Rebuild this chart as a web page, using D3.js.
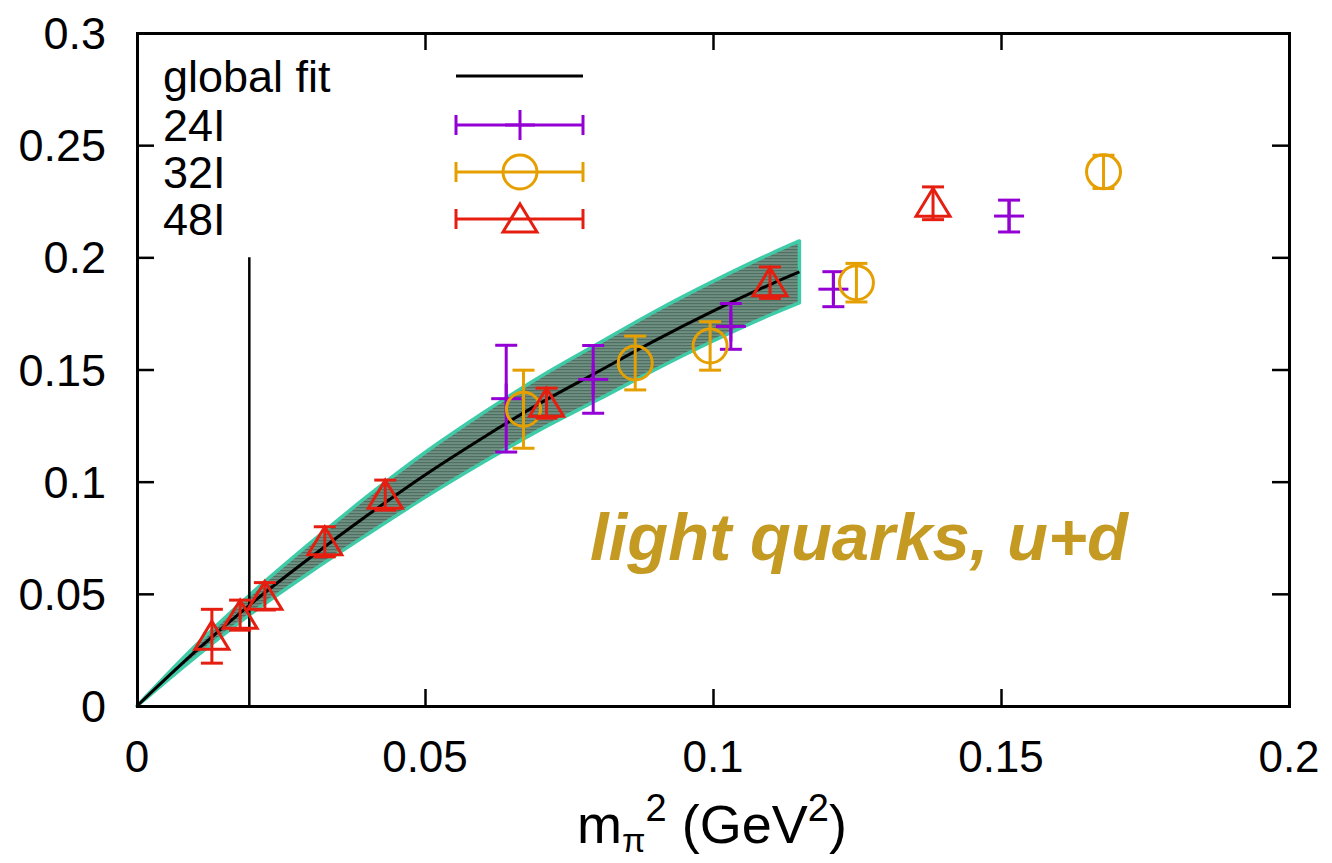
<!DOCTYPE html>
<html>
<head>
<meta charset="utf-8">
<script src="https://cdn.jsdelivr.net/npm/d3@7"></script>
<style>
  body { margin: 0; background: #fff; }
  text { font-family: "Liberation Sans", Arial, sans-serif; }
</style>
</head>
<body>
<svg id="chart" width="1332" height="863"></svg>
<script>
// global fit curve and its error band
var fitX    = [0, 0.01, 0.02, 0.03, 0.04, 0.05, 0.06, 0.07, 0.08, 0.09, 0.1, 0.11, 0.115];
var fitMid  = [0, 0.024, 0.046, 0.066, 0.085, 0.103, 0.1195, 0.135, 0.149, 0.163, 0.176, 0.188, 0.1935];
var fitHigh = [0, 0.0265, 0.0505, 0.0725, 0.0935, 0.113, 0.1305, 0.1468, 0.1615, 0.176, 0.1893, 0.2016, 0.2073];
var fitLow  = [0, 0.0215, 0.0415, 0.0595, 0.0765, 0.093, 0.1085, 0.1232, 0.1365, 0.150, 0.1627, 0.1744, 0.1797];

// lattice ensembles
var x24 = [0.0641, 0.0792, 0.1031, 0.1209, 0.1514];
var y24 = [0.137, 0.1456, 0.1692, 0.1858, 0.2184];
var e24 = [0.0238, 0.0151, 0.0102, 0.0078, 0.0071];

var x32 = [0.0671, 0.0865, 0.0995, 0.1249, 0.1678];
var y32 = [0.1323, 0.1529, 0.1605, 0.1887, 0.2381];
var e32 = [0.0174, 0.012, 0.0108, 0.0086, 0.0074];

var x48 = [0.0130, 0.0179, 0.0222, 0.0326, 0.0431, 0.0711, 0.1099, 0.1382];
var y48 = [0.0311, 0.0405, 0.0489, 0.0732, 0.094, 0.135, 0.1887, 0.2241];
var e48 = [0.012, 0.0067, 0.0061, 0.0067, 0.0067, 0.0067, 0.007, 0.0073];

var physPoint = 0.0195;   // vertical marker
var xTicks = [0, 0.05, 0.1, 0.15, 0.2];
var yTicks = [0, 0.05, 0.1, 0.15, 0.2, 0.25, 0.3];

var svg = d3.select("#chart");

var x = d3.scaleLinear().domain([0, 0.2]).range([137, 1289]);
var y = d3.scaleLinear().domain([0, 0.3]).range([706, 33]);

// hatch pattern for the band
var defs = svg.append("defs");
var pat = defs.append("pattern")
    .attr("id", "hatch")
    .attr("patternUnits", "userSpaceOnUse")
    .attr("width", 6).attr("height", 3);
pat.append("rect").attr("width", 6).attr("height", 3).attr("fill", "#6f8f81");
pat.append("rect").attr("width", 6).attr("height", 1.2).attr("fill", "#4e6f62");

// band
var bandData = fitX.map(function(d, i) { return {x: d, lo: fitLow[i], hi: fitHigh[i], mid: fitMid[i]}; });
var area = d3.area()
    .x(function(d) { return x(d.x); })
    .y0(function(d) { return y(d.lo); })
    .y1(function(d) { return y(d.hi); })
    .curve(d3.curveMonotoneX);
svg.append("path")
    .attr("d", area(bandData))
    .attr("fill", "url(#hatch)")
    .attr("stroke", "#40cba8")
    .attr("stroke-width", 3.5)
    .attr("stroke-linejoin", "round");

// central fit line
var line = d3.line()
    .x(function(d) { return x(d.x); })
    .y(function(d) { return y(d.mid); })
    .curve(d3.curveMonotoneX);
svg.append("path")
    .attr("d", line(bandData))
    .attr("fill", "none")
    .attr("stroke", "#000")
    .attr("stroke-width", 3);

// vertical line at physical pion mass
svg.append("line")
    .attr("x1", x(physPoint)).attr("x2", x(physPoint))
    .attr("y1", y(0)).attr("y2", y(0.2))
    .attr("stroke", "#000").attr("stroke-width", 2.5);

// frame + ticks
var axes = svg.append("g");
axes.append("g")
    .attr("transform", "translate(0," + y(0) + ")")
    .call(d3.axisBottom(x).tickValues(xTicks).tickSize(-17).tickFormat(""));
axes.append("g")
    .attr("transform", "translate(0," + y(0.3) + ")")
    .call(d3.axisTop(x).tickValues(xTicks).tickSize(-17).tickFormat(""));
axes.append("g")
    .attr("transform", "translate(" + x(0) + ",0)")
    .call(d3.axisLeft(y).tickValues(yTicks).tickSize(-17).tickFormat(""));
axes.append("g")
    .attr("transform", "translate(" + x(0.2) + ",0)")
    .call(d3.axisRight(y).tickValues(yTicks).tickSize(-17).tickFormat(""));
axes.selectAll("path.domain").attr("stroke", "#000").attr("stroke-width", 3);
axes.selectAll(".tick line").attr("stroke", "#000").attr("stroke-width", 2.5);

// tick labels
svg.selectAll(".xl").data(xTicks).enter().append("text")
    .attr("x", function(d) { return x(d); })
    .attr("y", 772)
    .attr("text-anchor", "middle")
    .attr("font-size", 44)
    .text(function(d) { return d3.format("")(d); });
svg.selectAll(".yl").data(yTicks).enter().append("text")
    .attr("x", 106)
    .attr("y", function(d) { return y(d) + 16; })
    .attr("text-anchor", "end")
    .attr("font-size", 45)
    .text(function(d) { return d3.format("")(d); });

// axis title
var xt = svg.append("text")
    .attr("x", 712).attr("y", 843)
    .attr("text-anchor", "middle")
    .attr("font-size", 54);
xt.append("tspan").text("m");
xt.append("tspan").attr("font-size", 34).attr("dy", 9).text("π");
xt.append("tspan").attr("font-size", 38).attr("dy", -31).text("2");
xt.append("tspan").attr("dy", 22).text(" (GeV");
xt.append("tspan").attr("font-size", 38).attr("dy", -22).text("2");
xt.append("tspan").attr("dy", 22).text(")");

// annotation
svg.append("text")
    .attr("x", 590).attr("y", 560)
    .attr("font-size", 67)
    .attr("font-weight", "bold")
    .attr("font-style", "italic")
    .attr("fill", "#c49a22")
    .text("light quarks, u+d");

// markers
var cPurple = "#9400d3", cOrange = "#e69f00", cRed = "#e51e10";

function errBar(g, px, py, lo, hi, color) {
  g.append("line").attr("x1", px).attr("x2", px).attr("y1", lo).attr("y2", hi)
    .attr("stroke", color).attr("stroke-width", 3);
  [lo, hi].forEach(function(yy) {
    g.append("line").attr("x1", px - 11).attr("x2", px + 11).attr("y1", yy).attr("y2", yy)
      .attr("stroke", color).attr("stroke-width", 3);
  });
}

function drawPlus(g, px, py, color) {
  g.append("line").attr("x1", px - 15).attr("x2", px + 15).attr("y1", py).attr("y2", py)
    .attr("stroke", color).attr("stroke-width", 3);
  g.append("line").attr("x1", px).attr("x2", px).attr("y1", py - 15).attr("y2", py + 15)
    .attr("stroke", color).attr("stroke-width", 3);
}
function drawCircle(g, px, py, color) {
  g.append("circle").attr("cx", px).attr("cy", py).attr("r", 17)
    .attr("fill", "none").attr("stroke", color).attr("stroke-width", 3);
}
function drawTri(g, px, py, color) {
  g.append("path")
    .attr("d", "M" + px + "," + (py - 15) + "L" + (px + 17) + "," + (py + 13) + "L" + (px - 17) + "," + (py + 13) + "Z")
    .attr("fill", "none").attr("stroke", color).attr("stroke-width", 3).attr("stroke-linejoin", "miter");
}

var pts = svg.append("g");
function series(xs, ys, es, color, marker) {
  xs.forEach(function(d, i) {
    var g = pts.append("g");
    errBar(g, x(d), y(ys[i]), y(ys[i] - es[i]), y(ys[i] + es[i]), color);
    marker(g, x(d), y(ys[i]), color);
  });
}
series(x24, y24, e24, cPurple, drawPlus);
series(x32, y32, e32, cOrange, drawCircle);
series(x48, y48, e48, cRed, drawTri);

// legend
var legend = [
  {name: "global fit", color: "#000", marker: null},
  {name: "24I", color: cPurple, marker: drawPlus},
  {name: "32I", color: cOrange, marker: drawCircle},
  {name: "48I", color: cRed, marker: drawTri}
];
var legY = [76, 125, 172, 219];
legend.forEach(function(d, i) {
  var g = svg.append("g");
  g.append("text").attr("x", 163).attr("y", legY[i] + 16).attr("font-size", 45).text(d.name);
  g.append("line").attr("x1", 456).attr("x2", 583).attr("y1", legY[i]).attr("y2", legY[i])
    .attr("stroke", d.color).attr("stroke-width", 3);
  if (d.marker) {
    [456, 583].forEach(function(xx) {
      g.append("line").attr("x1", xx).attr("x2", xx).attr("y1", legY[i] - 10).attr("y2", legY[i] + 10)
        .attr("stroke", d.color).attr("stroke-width", 3);
    });
    d.marker(g, 520, legY[i], d.color);
  }
});
</script>
</body>
</html>
